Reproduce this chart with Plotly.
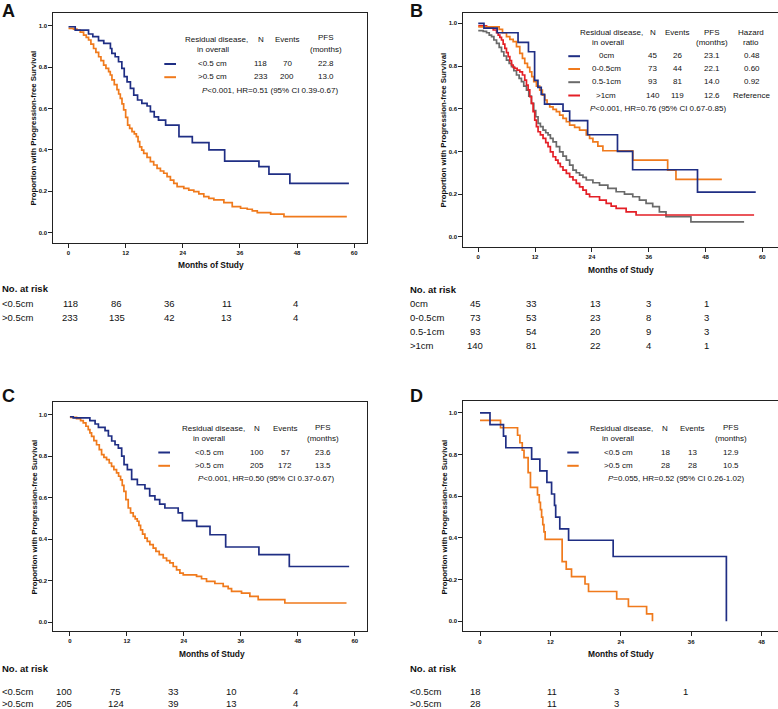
import plotly.graph_objects as go

W, H = 778, 709
FONT = "Liberation Sans, Arial, sans-serif"
NAVY = "#1f2e84"
ORANGE = "#f07a1c"
GRAY = "#6a6a6a"
RED = "#e41f26"

# ---------------- Panel A data ----------------
a_lt_t = [0, 1.4, 4.2, 5.1, 6.3, 7.4, 8.8, 9.1, 9.8, 10.5, 11.2, 11.7, 12.3, 13.0, 13.7, 14.5, 15.4, 16.5,
          17.2, 18.0, 18.9, 20.4, 23.2, 26.0, 29.5, 32.8, 40.0, 42.1, 46.5, 58.9]
a_lt_s = [0.995, 0.979, 0.96, 0.947, 0.928, 0.915, 0.89, 0.866, 0.85, 0.826, 0.794, 0.754, 0.729, 0.697, 0.665,
          0.641, 0.625, 0.612, 0.585, 0.56, 0.544, 0.52, 0.464, 0.435, 0.40, 0.346, 0.319, 0.283, 0.238, 0.238]
a_gt_t = [0, 1.05, 1.75, 2.46, 3.16, 3.72, 4.21, 4.70, 5.26, 5.75, 6.32, 6.81, 7.37, 7.86, 8.42, 8.77, 9.12,
          9.61, 10.18, 10.53, 10.88, 11.23, 11.58, 12.0, 12.42, 12.84, 13.33, 13.82, 14.25, 14.60, 14.95,
          15.37, 15.79, 16.49, 17.19, 17.89, 18.60, 19.30, 20.0, 20.70, 21.40, 22.11, 22.81, 24.21, 25.26,
          26.32, 27.37, 28.42, 29.47, 30.53, 32.63, 34.39, 36.14, 37.54, 38.60, 39.65, 42.46, 45.26, 58.46]
a_gt_s = [0.987, 0.984, 0.979, 0.969, 0.955, 0.944, 0.931, 0.911, 0.890, 0.871, 0.850, 0.831, 0.810, 0.794,
          0.778, 0.762, 0.738, 0.715, 0.691, 0.670, 0.649, 0.622, 0.593, 0.557, 0.520, 0.504, 0.488, 0.477,
          0.464, 0.440, 0.415, 0.399, 0.383, 0.364, 0.343, 0.327, 0.311, 0.298, 0.287, 0.271, 0.254, 0.238,
          0.222, 0.214, 0.206, 0.198, 0.187, 0.174, 0.166, 0.158, 0.145, 0.126, 0.118, 0.113, 0.105, 0.097,
          0.090, 0.077, 0.077]

# ---------------- Panel B data ----------------
b_0_t = [0, 1.2, 4.0, 8.4, 10.6, 11.9, 12.6, 13.3, 14.0, 17.9, 19.3, 23.1, 29.4, 32.6, 46.3, 58.6]
b_0_s = [1.0, 0.978, 0.956, 0.911, 0.867, 0.733, 0.70, 0.667, 0.622, 0.589, 0.544, 0.478, 0.40, 0.314,
         0.209, 0.209]
b_05_t = [0, 4.42, 5.12, 5.96, 6.67, 7.37, 8.07, 8.77, 9.33, 9.82, 10.39, 10.88, 11.30, 11.72, 12.28, 12.98,
          13.54, 14.04, 14.53, 15.09, 15.79, 16.49, 17.19, 17.89, 18.60, 19.30, 20.35, 21.40, 22.81, 23.51,
          24.21, 25.26, 26.32, 32.63, 40.0, 41.75, 51.44]
b_05_s = [0.984, 0.972, 0.956, 0.9375, 0.925, 0.914, 0.891, 0.859, 0.836, 0.8125, 0.794, 0.773, 0.75, 0.727,
          0.706, 0.6875, 0.664, 0.641, 0.622, 0.609, 0.597, 0.586, 0.570, 0.555, 0.539, 0.523, 0.5125, 0.5,
          0.477, 0.461, 0.445, 0.425, 0.403, 0.359, 0.3125, 0.269, 0.269]
b_1_t = [0, 1.05, 1.75, 2.32, 2.81, 3.30, 3.86, 4.42, 4.91, 5.40, 5.96, 6.53, 7.02, 7.51, 8.07, 8.63, 9.12,
         9.61, 10.18, 10.67, 11.23, 11.72, 12.14, 12.63, 13.12, 13.68, 14.25, 14.74, 15.23, 15.79, 16.49,
         17.19, 17.89, 18.60, 19.30, 20.0, 20.70, 21.40, 22.11, 22.81, 24.21, 25.61, 27.37, 29.12, 30.88,
         32.63, 34.04, 35.44, 36.84, 38.25, 39.65, 44.91, 56.14]
b_1_s = [0.966, 0.9625, 0.956, 0.945, 0.9375, 0.922, 0.906, 0.8875, 0.867, 0.847, 0.828, 0.8125, 0.797,
         0.778, 0.758, 0.742, 0.727, 0.706, 0.6875, 0.659, 0.625, 0.591, 0.5625, 0.531, 0.516, 0.5, 0.4875,
         0.477, 0.461, 0.445, 0.422, 0.398, 0.378, 0.359, 0.336, 0.3125, 0.3, 0.289, 0.278, 0.266, 0.253,
         0.242, 0.227, 0.211, 0.2, 0.1875, 0.172, 0.156, 0.141, 0.117, 0.094, 0.07, 0.07]
b_gt1_t = [0, 1.75, 3.16, 3.86, 4.21, 4.56, 4.91, 5.26, 5.61, 5.96, 6.32, 6.67, 7.02, 7.37, 7.72, 8.21, 8.77,
           9.33, 9.82, 10.18, 10.53, 10.88, 11.23, 11.58, 11.93, 12.28, 12.63, 13.12, 13.68, 14.25, 14.74,
           15.23, 15.79, 16.35, 16.84, 17.33, 17.89, 18.60, 19.30, 20.0, 20.70, 21.40, 22.11, 22.81, 23.51,
           25.61, 27.02, 28.07, 29.12, 31.23, 33.33, 58.25]
b_gt1_s = [0.988, 0.981, 0.969, 0.956, 0.945, 0.934, 0.922, 0.903, 0.883, 0.863, 0.844, 0.825, 0.805, 0.794,
           0.789, 0.781, 0.773, 0.758, 0.734, 0.711, 0.688, 0.656, 0.625, 0.586, 0.547, 0.516, 0.492, 0.477,
           0.461, 0.441, 0.422, 0.398, 0.375, 0.359, 0.344, 0.328, 0.3125, 0.297, 0.281, 0.266, 0.25, 0.234,
           0.219, 0.2, 0.1875, 0.172, 0.156, 0.144, 0.133, 0.117, 0.102, 0.102]

# ---------------- Panel C data ----------------
c_lt_t = [0, 0.7, 4.2, 5.3, 6.0, 7.4, 8.1, 8.8, 9.5, 10.2, 10.9, 11.4, 12.1, 13.0, 14.2, 15.8, 16.8, 17.9,
          18.9, 20.0, 22.8, 23.7, 26.7, 29.5, 32.8, 39.8, 46.2, 58.8]
c_lt_s = [0.99, 0.984, 0.971, 0.955, 0.939, 0.923, 0.897, 0.873, 0.855, 0.839, 0.8, 0.759, 0.735, 0.688, 0.662,
          0.643, 0.608, 0.59, 0.569, 0.55, 0.526, 0.489, 0.461, 0.421, 0.362, 0.325, 0.268, 0.268]
c_gt_t = [0, 1.40, 2.25, 2.81, 3.37, 3.86, 4.21, 4.56, 5.05, 5.61, 6.18, 6.67, 7.16, 7.72, 8.28, 8.77, 9.26,
          9.82, 10.25, 10.67, 11.02, 11.37, 11.79, 12.28, 12.77, 13.33, 13.75, 14.18, 14.53, 14.88, 15.30,
          15.79, 16.28, 16.84, 17.54, 18.11, 18.81, 19.65, 20.35, 21.05, 21.75, 22.46, 23.16, 23.86, 26.67,
          27.72, 28.77, 30.53, 32.28, 33.33, 34.04, 36.14, 37.89, 39.65, 45.26, 58.25]
c_gt_s = [0.987, 0.981, 0.971, 0.960, 0.944, 0.928, 0.912, 0.895, 0.875, 0.855, 0.831, 0.807, 0.794, 0.783,
          0.767, 0.751, 0.735, 0.719, 0.703, 0.686, 0.659, 0.630, 0.590, 0.550, 0.526, 0.510, 0.498, 0.486,
          0.466, 0.445, 0.424, 0.405, 0.389, 0.373, 0.357, 0.341, 0.325, 0.309, 0.296, 0.285, 0.268, 0.252,
          0.236, 0.228, 0.220, 0.209, 0.196, 0.186, 0.172, 0.161, 0.148, 0.140, 0.124, 0.108, 0.092, 0.092]

# ---------------- Panel D data ----------------
d_lt_t = [0, 1.7, 4.0, 4.4, 8.8, 10.2, 11.4, 12.2, 12.7, 12.9, 13.6, 15.1, 22.7, 42.0]
d_lt_s = [1.0, 0.944, 0.889, 0.833, 0.778, 0.722, 0.667, 0.611, 0.556, 0.5, 0.444, 0.389, 0.311, 0.0]
d_gt_t = [0, 3.5, 6.4, 6.8, 7.2, 7.5, 8.2, 8.6, 9.8, 10.1, 10.3, 10.5, 10.7, 10.9, 11.1, 14.0, 14.7, 15.6,
          17.9, 18.5, 23.3, 25.3, 28.4, 29.4]
d_gt_s = [0.964, 0.929, 0.893, 0.857, 0.821, 0.786, 0.714, 0.643, 0.607, 0.571, 0.536, 0.5, 0.464, 0.429,
          0.393, 0.286, 0.25, 0.214, 0.179, 0.143, 0.107, 0.071, 0.036, 0.0]

# ---------------- Tables / text data ----------------
legend_A = [["<0.5 cm", "118", "70", "22.8"], [">0.5 cm", "233", "200", "13.0"]]
legend_B = [["0cm", "45", "26", "23.1", "0.48"], ["0-0.5cm", "73", "44", "22.1", "0.60"],
            ["0.5-1cm", "93", "81", "14.0", "0.92"], [">1cm", "140", "119", "12.6", "Reference"]]
legend_C = [["<0.5 cm", "100", "57", "23.6"], [">0.5 cm", "205", "172", "13.5"]]
legend_D = [["<0.5 cm", "18", "13", "12.9"], [">0.5 cm", "28", "28", "10.5"]]
stat_A = "<i>P</i><0.001, HR=0.51 (95% CI 0.39-0.67)"
stat_B = "<i>P</i><0.001, HR=0.76 (95% CI 0.67-0.85)"
stat_C = "<i>P</i><0.001, HR=0.50 (95% CI 0.37-0.67)"
stat_D = "<i>P</i>=0.055, HR=0.52 (95% CI 0.26-1.02)"

risk_A_labels = ["<0.5cm", ">0.5cm"]
risk_A = [[118, 86, 36, 11, 4], [233, 135, 42, 13, 4]]
risk_B_labels = ["0cm", "0-0.5cm", "0.5-1cm", ">1cm"]
risk_B = [[45, 33, 13, 3, 1], [73, 53, 23, 8, 3], [93, 54, 20, 9, 3], [140, 81, 22, 4, 1]]
risk_C_labels = ["<0.5cm", ">0.5cm"]
risk_C = [[100, 75, 33, 10, 4], [205, 124, 39, 13, 4]]
risk_D_labels = ["<0.5cm", ">0.5cm"]
risk_D = [[18, 11, 3, 1], [28, 11, 3]]

xticks_60 = [0, 12, 24, 36, 48, 60]
xticks_48 = [0, 12, 24, 36, 48]
yticks = [0.0, 0.2, 0.4, 0.6, 0.8, 1.0]

# ---------------- Figure ----------------
fig = go.Figure()

def curve(t, s, color, ax):
    fig.add_trace(go.Scatter(x=t, y=s, mode="lines", line=dict(color=color, width=1.7, shape="hv"),
                             xaxis="x" + ax, yaxis="y" + ax, showlegend=False, hoverinfo="skip"))

curve(a_gt_t, a_gt_s, ORANGE, "")
curve(a_lt_t, a_lt_s, NAVY, "")
curve(b_1_t, b_1_s, GRAY, "2")
curve(b_gt1_t, b_gt1_s, RED, "2")
curve(b_05_t, b_05_s, ORANGE, "2")
curve(b_0_t, b_0_s, NAVY, "2")
curve(c_gt_t, c_gt_s, ORANGE, "3")
curve(c_lt_t, c_lt_s, NAVY, "3")
curve(d_gt_t, d_gt_s, ORANGE, "4")
curve(d_lt_t, d_lt_s, NAVY, "4")

def xax(dom, rng, ticks, anchor):
    return dict(domain=[dom[0] / W, min(dom[1] / W, 1.0)], range=rng, anchor=anchor, tickvals=ticks,
                ticktext=[str(v) for v in ticks], showline=True, linecolor="#222", linewidth=1, mirror=True,
                ticks="outside", ticklen=4, tickwidth=1, tickcolor="#222", showgrid=False, zeroline=False,
                tickfont=dict(size=6, family=FONT, color="#111", weight="bold"), fixedrange=True)

def yax(dom, rng, anchor, mirror):
    return dict(domain=[1 - dom[1] / H, 1 - dom[0] / H], range=rng, anchor=anchor, tickvals=yticks,
                ticktext=["%.1f" % v for v in yticks], showline=True, linecolor="#222", linewidth=1,
                mirror=mirror, ticks="outside", ticklen=4, tickwidth=1, tickcolor="#222", showgrid=False,
                zeroline=False, tickfont=dict(size=6, family=FONT, color="#111", weight="bold"),
                fixedrange=True)

layout = dict(
    width=W, height=H, margin=dict(l=0, r=0, t=0, b=0), paper_bgcolor="white", plot_bgcolor="white",
    font=dict(family=FONT, color="#111"), showlegend=False,
    xaxis=xax((53.3, 367), [-3.2, 62.7], xticks_60, "y"),
    yaxis=yax((12.7, 243), [-0.05, 1.063], "x", True),
    xaxis2=xax((463.3, 778), [-3.16, 63.3], xticks_60, "y2"),
    yaxis2=yax((12.7, 247), [-0.048, 1.05], "x2", False),
    xaxis3=xax((53.3, 366.7), [-3.5, 62.5], xticks_60, "y3"),
    yaxis3=yax((402, 631), [-0.043, 1.061], "x3", True),
    xaxis4=xax((463.3, 778), [-2.85, 50.8], xticks_48, "y4"),
    yaxis4=yax((401.3, 631.3), [-0.048, 1.056], "x4", False),
)
fig.update_layout(**layout)

anns = []
shapes = []

def txt(text, px, py, size=8, anchor="center", angle=0, color="#111"):
    anns.append(dict(text=text, x=px / W, y=1 - py / H, xref="paper", yref="paper", showarrow=False,
                     xanchor=anchor, yanchor="middle", textangle=angle,
                     font=dict(size=size, family=FONT, color=color)))

def key(x0, x1, py, color):
    shapes.append(dict(type="line", xref="paper", yref="paper", x0=x0 / W, x1=x1 / W, y0=1 - py / H,
                       y1=1 - py / H, line=dict(color=color, width=2)))

# Panel letters
for letter, px, py in [("A", 0, 11), ("B", 408, 11), ("C", 0, 396), ("D", 408, 396)]:
    txt("<b>%s</b>" % letter, px, py, size=18, anchor="left")

# Axis titles
for px, py in [(33.5, 128), (443.5, 130), (33.5, 517), (443.5, 517)]:
    txt("<b>Proportion with Progression-free Survival</b>", px, py, size=7.8, angle=-90)
for px, py in [(211, 265), (621, 269.5), (212, 653.5), (621, 653.5)]:
    txt("<b>Months of Study</b>", px, py, size=8.4)

# Legend tables (2-group panels)
def legend2(rows, stat, cx, hy, rowy, colx, keyx, stat_cx):
    txt("Residual disease,", cx[0], hy[0])
    txt("in overall", cx[0] - 4, hy[1])
    txt("N", colx[0], hy[0])
    txt("Events", colx[1], hy[0])
    txt("PFS", colx[2], hy[0] - 1.5)
    txt("(months)", colx[2], hy[1])
    for (lab, n, ev, pfs), py, col in zip(rows, rowy, [NAVY, ORANGE]):
        key(keyx[0], keyx[1], py + 0.5, col)
        txt(lab, cx[1], py)
        txt(n, colx[0], py)
        txt(ev, colx[1], py)
        txt(pfs, colx[2], py)
    txt(stat, stat_cx, rowy[-1] + 13.5)

legend2(legend_A, stat_A, (216.7, 212.7), (39, 49), (63.5, 76.7), (260.7, 287.3, 326), (164.3, 176), 269.5)
legend2(legend_C, stat_C, (213.3, 209.3), (428.7, 438.7), (452, 465.3), (256.7, 285, 322.7), (158.3, 170), 266)
legend2(legend_D, stat_D, (621.7, 618.3), (428.7, 438.7), (452, 465.3), (665, 692.3, 730.7), (567.3, 578.7), 675.5)

# Panel B legend (4 groups)
txt("Residual disease,", 611.7, 32.7)
txt("in overall", 608.3, 42.7)
txt("N", 652.7, 32.7)
txt("Events", 676.7, 32.7)
txt("PFS", 712, 32.2)
txt("(months)", 712, 42.7)
txt("Hazard", 750.5, 32.7)
txt("ratio", 750.5, 42.7)
for (lab, n, ev, pfs, hr), py, col in zip(legend_B, [55.7, 68.5, 81.7, 95], [NAVY, ORANGE, GRAY, RED]):
    key(568.3, 580, py + 0.5, col)
    txt(lab, 606, py)
    txt(n, 652.7, py)
    txt(ev, 677.3, py)
    txt(pfs, 712.3, py)
    txt(hr, 751.5, py)
txt(stat_B, 658, 108.7)

# Risk tables
def risk(labels, rows, lx, heady, rowys, colxs):
    txt("<b>No. at risk</b>", lx, heady, size=9.5, anchor="left")
    for lab, vals, py in zip(labels, rows, rowys):
        txt(lab, lx, py, size=9.5, anchor="left")
        for v, px in zip(vals, colxs):
            txt(str(v), px, py, size=9.5)

risk(risk_A_labels, risk_A, 0, 288.3, [303.3, 317.3], [70, 116.7, 169.3, 226.7, 295])
risk(risk_B_labels, risk_B, 408.3, 289.3, [303.3, 317.7, 331.7, 345], [475, 531.7, 595, 648.3, 706.7])
risk(risk_C_labels, risk_C, 0, 668.3, [691.2, 703.0], [64.3, 115.7, 173.3, 231, 295])
risk(risk_D_labels, risk_D, 408.3, 668.3, [691.2, 703.0], [475.7, 552.3, 616.7, 685])

fig.update_layout(annotations=anns, shapes=shapes)
fig.write_html("out.html", config={"displayModeBar": False},
               post_script="document.body.style.margin='0';document.body.style.overflow='hidden';")
